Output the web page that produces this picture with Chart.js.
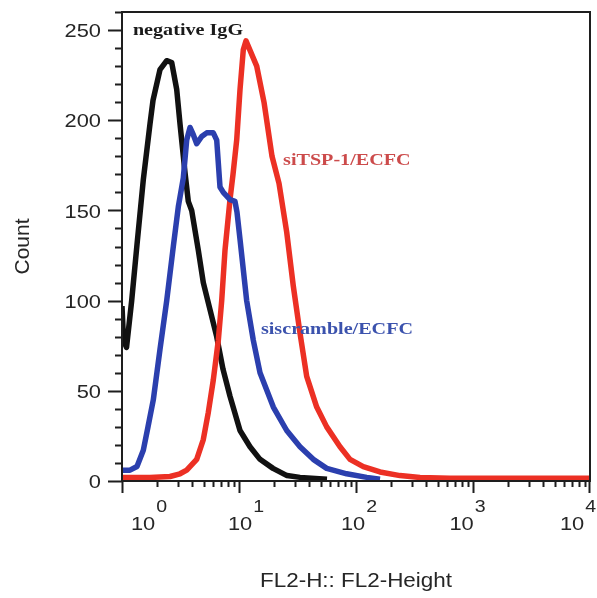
<!DOCTYPE html>
<html>
<head>
<meta charset="utf-8">
<script src="https://cdn.jsdelivr.net/npm/chart.js@4.4.1/dist/chart.umd.min.js"></script>
<style>
  html, body { margin: 0; padding: 0; background: #fff; }
  #chart { display: block; }
</style>
</head>
<body>
<canvas id="chart" width="597" height="598"></canvas>
<script>
// FL2-Height (log scale) vs event count
const fluorIgG = [1.0, 1.03, 1.093, 1.21, 1.343, 1.521, 1.735, 1.841, 2.112, 2.411, 2.66, 2.935, 3.131, 3.455, 3.687, 3.941, 4.488, 4.953, 5.651, 6.449, 7.299, 8.378, 10.2, 12.42, 15.12, 19.53, 25.72, 33.22, 56.51];
const countIgG = [97, 78, 74, 100, 131, 167, 198, 211, 228, 233, 232, 217, 198, 171, 155, 150, 128, 110, 95, 80, 62, 47, 28, 19, 12, 7, 3, 2, 1];

const fluorScramble = [1.0, 1.17, 1.343, 1.521, 1.668, 1.852, 2.112, 2.411, 2.745, 3.029, 3.342, 3.573, 3.814, 4.069, 4.35, 4.8, 5.296, 6.03, 6.449, 6.88, 7.342, 8.378, 9.243, 9.614, 10.2, 11.63, 13.25, 15.12, 19.65, 25.57, 33.22, 43.15, 56.17, 83.27, 123.5, 160.4];
const countScramble = [6, 6, 8, 17, 30, 45, 73, 100, 130, 152, 168, 189, 196, 192, 187, 191, 193, 193, 189, 163, 160, 156, 155, 149, 134, 100, 78, 60, 41, 28, 19, 12, 7, 4, 2, 1];

const fluorSiTSP = [1.0, 1.735, 2.572, 3.131, 3.573, 4.35, 4.953, 5.465, 6.03, 6.656, 7.115, 7.593, 8.378, 8.887, 9.557, 10.2, 10.88, 11.48, 14.17, 16.36, 19.15, 21.98, 25.57, 29.12, 33.22, 37.9, 46.15, 56.17, 73.0, 88.86, 115.4, 160.4, 237.8, 352.4, 636, 2522, 10000];
const countSiTSP = [2, 2, 2.5, 4, 6, 12, 23, 38, 56, 78, 100, 128, 156, 170, 189, 217, 239, 244, 230, 210, 180, 165, 138, 108, 82, 58, 41, 30, 19, 12, 8, 5, 3, 2, 1.5, 1.5, 1.5];

const yTickValues = [0, 50, 100, 150, 200, 250];
const xDecades = [1, 10, 100, 1000, 10000];
const xExponents = ['0', '1', '2', '3', '4'];

const curveLabels = [
  { text: 'negative IgG', x: 1.24, y: 247, color: '#1a1a1a' },
  { text: 'siTSP-1/ECFC', x: 23.8, y: 175, color: '#cc4b4b' },
  { text: 'siscramble/ECFC', x: 15.4, y: 81.5, color: '#3b52ad' },
];

const toPoints = (xs, ys) => xs.map((x, i) => ({ x, y: ys[i] }));

const SX = 1.15; // the figure is stretched sideways
const labelShift = [26.5, 6.5, 2.5, -6, -12.5];

function stretchText(ctx, text, x, y, align) {
  ctx.save();
  ctx.translate(x, y);
  ctx.scale(SX, 1);
  ctx.textAlign = align;
  ctx.fillText(text, 0, 0);
  ctx.restore();
}

const axesDecor = {
  id: 'axesDecor',
  afterDraw(chart) {
    const { ctx, chartArea } = chart;
    const { left, right, top, bottom } = chartArea;
    const xs = chart.scales.x;
    const ys = chart.scales.y;
    ctx.save();
    ctx.strokeStyle = '#1e1e1e';
    ctx.lineWidth = 2;
    ctx.strokeRect(left, top, right - left, bottom - top);

    // y tick marks
    ctx.beginPath();
    for (let v = 0; v <= 260; v += 10) {
      const py = Math.round(ys.getPixelForValue(v)) + 0.5;
      const len = v % 50 === 0 ? 14 : 7;
      ctx.moveTo(left - len, py);
      ctx.lineTo(left, py);
    }
    // x tick marks
    for (let e = 0; e < 4; e++) {
      for (let m = 1; m <= 9; m++) {
        const px = Math.round(xs.getPixelForValue(m * Math.pow(10, e))) + 0.5;
        const len = m === 1 ? 12 : 6;
        ctx.moveTo(px, bottom);
        ctx.lineTo(px, bottom + len);
      }
    }
    const pEnd = Math.round(xs.getPixelForValue(10000)) - 0.5;
    ctx.moveTo(pEnd, bottom);
    ctx.lineTo(pEnd, bottom + 12);
    ctx.stroke();

    // y tick labels
    ctx.fillStyle = '#262626';
    ctx.font = '19px "Liberation Sans", Arial, sans-serif';
    ctx.textBaseline = 'middle';
    yTickValues.forEach(v => {
      stretchText(ctx, String(v), left - 21, ys.getPixelForValue(v) + 2, 'right');
    });

    // x tick labels: 10 with superscript exponent
    ctx.textBaseline = 'alphabetic';
    xDecades.forEach((d, i) => {
      const px = xs.getPixelForValue(d) + labelShift[i];
      ctx.font = '19px "Liberation Sans", Arial, sans-serif';
      const w10 = ctx.measureText('10').width * SX;
      ctx.font = '17px "Liberation Sans", Arial, sans-serif';
      const ws = ctx.measureText(xExponents[i]).width * SX;
      const start = px - (w10 + ws) / 2;
      ctx.font = '19px "Liberation Sans", Arial, sans-serif';
      stretchText(ctx, '10', start, 530, 'left');
      ctx.font = '17px "Liberation Sans", Arial, sans-serif';
      stretchText(ctx, xExponents[i], start + w10 + 1, 512, 'left');
    });

    // axis titles
    ctx.font = '19.5px "Liberation Sans", Arial, sans-serif';
    stretchText(ctx, 'FL2-H:: FL2-Height', (left + right) / 2, 587, 'center');
    ctx.save();
    ctx.translate(23, (top + bottom) / 2);
    ctx.rotate(-Math.PI / 2);
    ctx.font = '21px "Liberation Sans", Arial, sans-serif';
    ctx.textAlign = 'center';
    ctx.textBaseline = 'middle';
    ctx.fillText('Count', 0, 0);
    ctx.restore();

    // curve labels
    ctx.font = 'bold 17.5px "Liberation Serif", "Times New Roman", serif';
    curveLabels.forEach(l => {
      ctx.fillStyle = l.color;
      stretchText(ctx, l.text, xs.getPixelForValue(l.x), ys.getPixelForValue(l.y), 'left');
    });
    ctx.restore();
  },
};

const lineStyle = { pointRadius: 0, borderWidth: 5.5, tension: 0, fill: false, borderJoinStyle: 'round' };

new Chart(document.getElementById('chart'), {
  type: 'line',
  data: {
    datasets: [
      { label: 'negative IgG', data: toPoints(fluorIgG, countIgG), borderColor: '#111111', order: 3, ...lineStyle },
      { label: 'siTSP-1/ECFC', data: toPoints(fluorSiTSP, countSiTSP), borderColor: '#ec3024', order: 2, ...lineStyle },
      { label: 'siscramble/ECFC', data: toPoints(fluorScramble, countScramble), borderColor: '#2b3fae', order: 1, ...lineStyle },
    ],
  },
  options: {
    responsive: false,
    animation: false,
    layout: { padding: { top: 12, right: 7, left: 0, bottom: 0 } },
    plugins: { legend: { display: false }, tooltip: { enabled: false } },
    scales: {
      x: {
        type: 'logarithmic',
        min: 1,
        max: 10000,
        ticks: { display: false },
        grid: { display: false },
        border: { display: false },
        afterFit(s) { s.height = 117; },
      },
      y: {
        type: 'linear',
        min: 0,
        max: 260,
        ticks: { display: false },
        grid: { display: false },
        border: { display: false },
        afterFit(s) { s.width = 122; },
      },
    },
  },
  plugins: [axesDecor],
});
</script>
</body>
</html>
